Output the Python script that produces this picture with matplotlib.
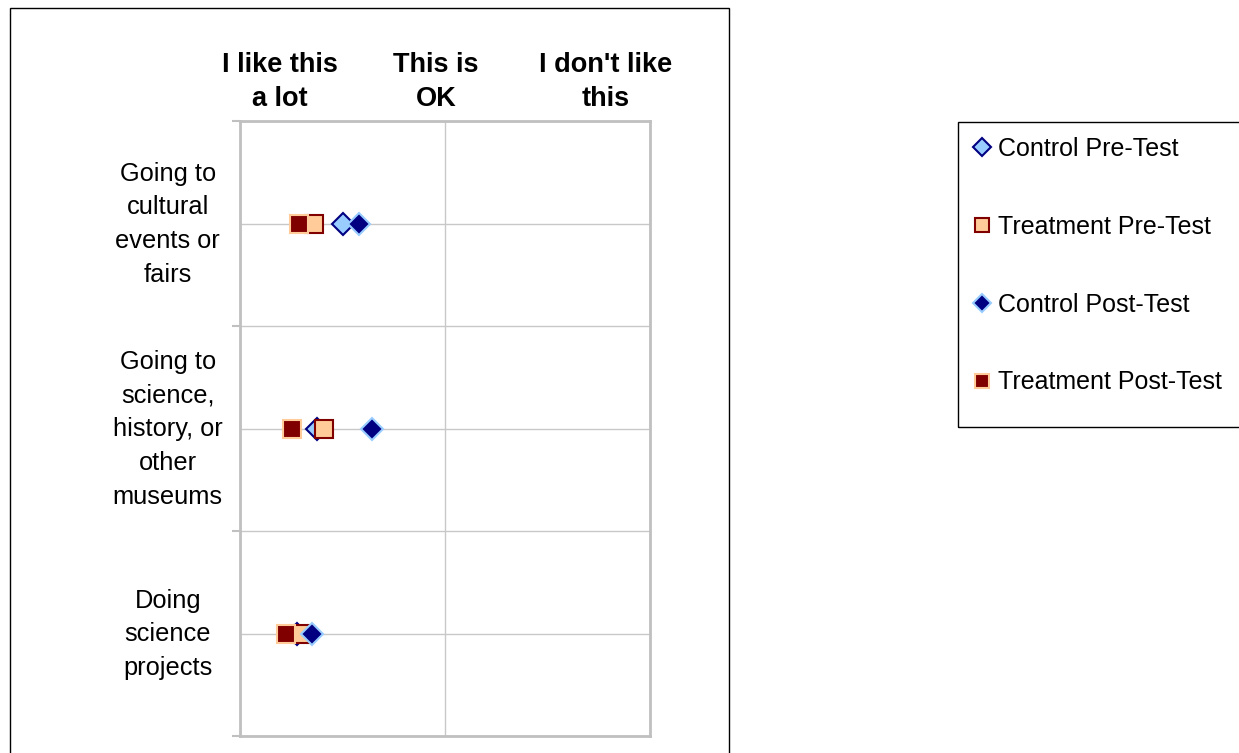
import matplotlib.pyplot as plt
from matplotlib.patches import Rectangle
from matplotlib.transforms import ScaledTranslation

plt.rcParams['font.family'] = ['Liberation Sans', 'DejaVu Sans']

categories = ['Going to\ncultural\nevents or\nfairs',
              'Going to\nscience,\nhistory, or\nother\nmuseums',
              'Doing\nscience\nprojects']
scale_labels = ['I like this\na lot', 'This is\nOK', "I don't like\nthis"]

# 1 = like a lot, 2 = OK, 3 = don't like
control_pre = [1.50, 1.375, 1.28]
treatment_pre = [1.36, 1.41, 1.305]
control_post = [1.58, 1.645, 1.35]
treatment_post = [1.29, 1.255, 1.222]

fig = plt.figure(figsize=(12.39, 7.53), dpi=100)
ax = fig.add_axes([240 / 1239, 1 - 736 / 753, 410 / 1239, 615 / 753])

ypos = [i + 0.5 for i in range(len(categories))]

ax.plot(control_pre, ypos, linestyle='none', marker='D', ms=11,
        mfc='#99CCFF', mec='#000080', mew=1.5, label='Control Pre-Test', zorder=3)
ax.plot(treatment_pre, ypos, linestyle='none', marker='s', ms=12.5,
        mfc='#FFCC99', mec='#800000', mew=1.5, label='Treatment Pre-Test', zorder=4)
ax.plot(control_post, ypos, linestyle='none', marker='D', ms=11,
        mfc='#000080', mec='#99CCFF', mew=1.5, label='Control Post-Test', zorder=5)
ax.plot(treatment_post, ypos, linestyle='none', marker='s', ms=12.5,
        mfc='#800000', mec='#FFCC99', mew=1.5, label='Treatment Post-Test', zorder=6)

ax.set_xlim(1, 3)
ax.set_ylim(len(categories), 0)
ax.set_xticks([1, 2, 3])
ax.set_xticklabels([])
ax.tick_params(axis='x', length=0)
ax.set_yticks(range(len(categories) + 1))
ax.set_yticklabels([])
ax.tick_params(axis='y', which='major', length=6, color='#C0C0C0', width=1.5)
ax.set_yticks(ypos, minor=True)
ax.set_yticklabels(categories, minor=True, fontsize=18.3, ha='center',
                   linespacing=1.52)
ax.tick_params(axis='y', which='minor', length=0, pad=52)
shift_up = ScaledTranslation(0, 6.5 / 100, fig.dpi_scale_trans)
for lbl in ax.get_yticklabels(minor=True):
    lbl.set_transform(lbl.get_transform() + shift_up)
ax.grid(True, which='both', color='#C8C8C8', lw=1)
ax.set_axisbelow(True)
for s in ax.spines.values():
    s.set_color('#C0C0C0')
    s.set_linewidth(2)

header_x = [280, 436, 606]
for x, lab in zip(header_x, scale_labels):
    fig.text(x / 1239, 1 - 82 / 753, lab, ha='center', va='center',
             fontsize=19.5, fontweight='bold', linespacing=1.38)

fig.patches.append(Rectangle((10 / 1239, -0.1), 719 / 1239, 1.1 - 8 / 753,
                             transform=fig.transFigure, fill=False,
                             edgecolor='black', lw=1))
fig.patches.append(Rectangle((958 / 1239, 1 - 427 / 753), 0.3, 305 / 753,
                             transform=fig.transFigure, fill=False,
                             edgecolor='black', lw=1))

leg = fig.legend(loc='upper left', bbox_to_anchor=(958 / 1239, 1 - 122 / 753),
                 fontsize=18, frameon=False, labelspacing=2.15,
                 handlelength=0.7, handletextpad=0.3, borderpad=0.6,
                 borderaxespad=0, markerscale=0.8)

fig.savefig('out.png', dpi=100)
